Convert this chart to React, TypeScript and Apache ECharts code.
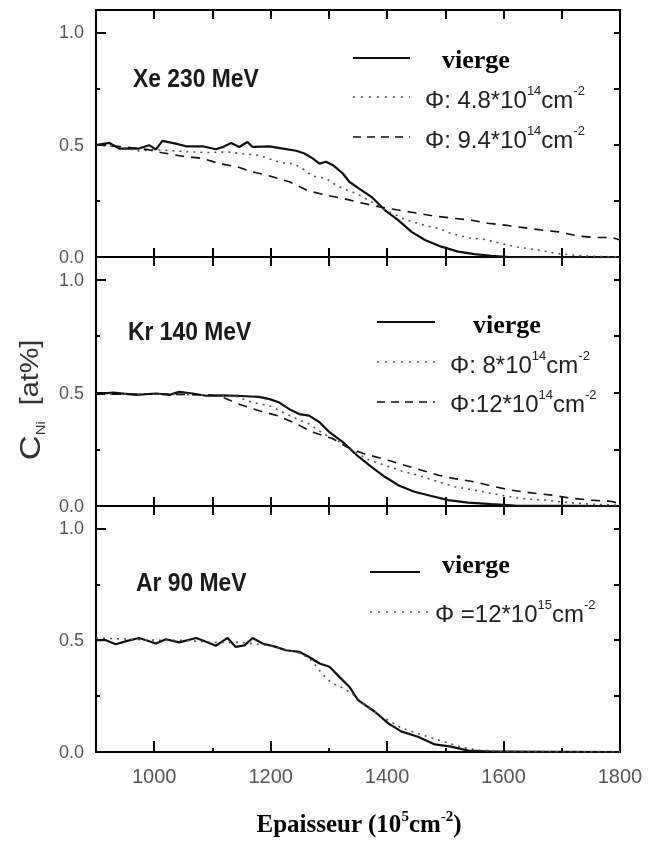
import React, { useEffect, useRef } from "react";
import * as echarts from "echarts";

// ---- Data (x: Epaisseur 10^5 cm^-2, y: C_Ni at%) ----
const xTickLabels = [1000, 1200, 1400, 1600, 1800];
const xMajorTicks = [1000, 1200, 1400, 1600];
const xMinorTicks = [1100, 1300, 1500, 1700];
const yTickLabels = [0, 0.5, 1.0];
const yMinorTicks = [0.25, 0.75];
const yRightTicks = [0, 0.25, 0.5, 0.75, 1.0];

const panelNames = ["Xe 230 MeV", "Kr 140 MeV", "Ar 90 MeV"];

// Xe 230 MeV
const xeVierge = [[900,0.498],[923,0.508],[940,0.483],[974,0.483],[991,0.498],[1003,0.479],[1014,0.517],[1037,0.505],[1055,0.493],[1083,0.493],[1106,0.48],[1118,0.49],[1132,0.508],[1146,0.49],[1160,0.512],[1169,0.49],[1198,0.493],[1221,0.483],[1244,0.473],[1258,0.461],[1272,0.439],[1284,0.416],[1295,0.424],[1307,0.409],[1324,0.372],[1335,0.335],[1350,0.308],[1373,0.268],[1396,0.209],[1419,0.164],[1442,0.112],[1465,0.076],[1493,0.046],[1522,0.024],[1550,0.013],[1579,0.005],[1610,0.0],[1800,0.0]];
const xeDose1 = [[900,0.5],[940,0.49],[975,0.472],[1000,0.478],[1050,0.47],[1089,0.465],[1126,0.468],[1150,0.46],[1180,0.453],[1200,0.435],[1218,0.419],[1238,0.416],[1255,0.394],[1272,0.36],[1295,0.35],[1312,0.32],[1329,0.3],[1347,0.283],[1370,0.25],[1400,0.205],[1430,0.168],[1453,0.15],[1470,0.137],[1488,0.128],[1510,0.105],[1539,0.085],[1568,0.078],[1600,0.058],[1619,0.046],[1659,0.031],[1694,0.015],[1730,0.006],[1770,0.002],[1800,0.0]];
const xeDose2 = [[900,0.5],[950,0.49],[990,0.478],[1014,0.464],[1049,0.449],[1083,0.439],[1112,0.416],[1143,0.401],[1169,0.379],[1200,0.36],[1232,0.335],[1264,0.295],[1295,0.276],[1324,0.261],[1347,0.246],[1385,0.224],[1419,0.209],[1447,0.197],[1482,0.182],[1516,0.172],[1545,0.164],[1573,0.15],[1602,0.142],[1631,0.132],[1665,0.12],[1694,0.112],[1729,0.093],[1757,0.087],[1786,0.087],[1800,0.076]];

// Kr 140 MeV
const krVierge = [[900,0.494],[929,0.501],[969,0.491],[1003,0.497],[1026,0.491],[1043,0.504],[1066,0.497],[1089,0.487],[1118,0.489],[1140,0.487],[1180,0.482],[1198,0.472],[1215,0.457],[1232,0.428],[1249,0.406],[1266,0.399],[1284,0.37],[1301,0.326],[1324,0.282],[1350,0.22],[1373,0.173],[1396,0.129],[1419,0.092],[1447,0.063],[1476,0.044],[1505,0.026],[1539,0.015],[1579,0.008],[1620,0.002],[1800,0.0]];
const krDose1 = [[900,0.494],[1000,0.495],[1100,0.49],[1140,0.485],[1169,0.457],[1198,0.443],[1221,0.414],[1244,0.385],[1266,0.363],[1290,0.32],[1320,0.28],[1345,0.24],[1367,0.205],[1396,0.18],[1425,0.155],[1453,0.136],[1488,0.107],[1516,0.085],[1550,0.07],[1596,0.048],[1625,0.034],[1671,0.026],[1710,0.015],[1750,0.008],[1800,0.003]];
const krDose2 = [[900,0.494],[1000,0.495],[1100,0.49],[1118,0.48],[1146,0.45],[1180,0.421],[1212,0.399],[1244,0.363],[1272,0.326],[1307,0.297],[1330,0.262],[1359,0.232],[1402,0.202],[1430,0.18],[1459,0.158],[1488,0.136],[1516,0.121],[1550,0.107],[1579,0.088],[1613,0.07],[1648,0.058],[1683,0.048],[1717,0.034],[1751,0.026],[1786,0.02],[1800,0.01]];

// Ar 90 MeV
const arVierge = [[900,0.5],[917,0.5],[934,0.482],[952,0.496],[974,0.51],[1003,0.485],[1020,0.504],[1043,0.49],[1072,0.51],[1089,0.493],[1106,0.475],[1126,0.51],[1140,0.47],[1155,0.477],[1169,0.51],[1186,0.485],[1209,0.47],[1226,0.455],[1249,0.448],[1266,0.425],[1284,0.396],[1301,0.381],[1318,0.336],[1335,0.292],[1350,0.232],[1379,0.18],[1402,0.128],[1425,0.091],[1453,0.068],[1482,0.034],[1510,0.024],[1539,0.006],[1580,0.002],[1800,0.0]];
const arDose1 = [[900,0.51],[950,0.505],[1000,0.5],[1050,0.5],[1100,0.49],[1150,0.49],[1200,0.475],[1230,0.455],[1252,0.44],[1270,0.41],[1290,0.345],[1304,0.31],[1321,0.29],[1340,0.26],[1360,0.215],[1390,0.16],[1425,0.107],[1459,0.077],[1499,0.045],[1530,0.02],[1560,0.008],[1600,0.002],[1800,0.0]];

const panelCurves = [
  [{ data: xeVierge, kind: "solid" }, { data: xeDose1, kind: "dotted" }, { data: xeDose2, kind: "dashed" }],
  [{ data: krVierge, kind: "solid" }, { data: krDose1, kind: "dotted" }, { data: krDose2, kind: "dashed" }],
  [{ data: arVierge, kind: "solid" }, { data: arDose1, kind: "dotted" }],
];

const SANS = "'Liberation Sans', Arial, sans-serif";
const SERIF = "'Liberation Serif', 'Times New Roman', serif";

const gridBoxes = [
  { top: 10, height: 247 },
  { top: 257, height: 249 },
  { top: 506, height: 246 },
];

function curveStyle(kind: string): any {
  if (kind === "solid") return { color: "#111", width: 2.2 };
  if (kind === "dotted") return { color: "#555", width: 1.6, type: [2, 5] };
  return { color: "#111", width: 1.6, type: [9, 7] };
}

function buildChartOption() {
  const grids = gridBoxes.map((g) => ({ left: 96, right: 38, top: g.top, height: g.height }));
  const xAxis: any[] = [];
  const yAxis: any[] = [];
  const c = "#000";
  const w = 2;
  gridBoxes.forEach((_, i) => {
    const last = i === 2;
    xAxis.push({
      type: "value", gridIndex: i, position: "bottom", min: 900, max: 1800, interval: 100, splitLine: { show: false },
      axisLine: { show: true, onZero: false, lineStyle: { color: c, width: w } },
      axisTick: last
        ? { show: true, inside: true, length: 11, customValues: xMajorTicks, lineStyle: { color: c, width: w } }
        : { show: true, inside: true, length: 9, lineStyle: { color: c, width: w } },
      axisLabel: last
        ? { show: true, customValues: xTickLabels, formatter: (v: number) => String(v), color: "#555", fontSize: 20, fontFamily: SANS, margin: 14 }
        : { show: false },
    });
    xAxis.push({
      type: "value", gridIndex: i, position: "top", min: 900, max: 1800, interval: 100, splitLine: { show: false },
      axisLine: { show: true, onZero: false, lineStyle: { color: c, width: w } },
      axisTick: { show: true, inside: true, length: 9, lineStyle: { color: c, width: w } },
      axisLabel: { show: false },
    });
    yAxis.push({
      type: "value", gridIndex: i, position: "left", min: 0, max: 1.1, splitLine: { show: false },
      axisLine: { show: true, onZero: false, lineStyle: { color: c, width: w } },
      axisTick: { show: true, inside: true, length: 10, customValues: yTickLabels, lineStyle: { color: c, width: w } },
      axisLabel: { show: true, customValues: yTickLabels, color: "#555", fontSize: 18, fontFamily: SANS, margin: 12, formatter: (v: number) => v.toFixed(1) },
    });
    yAxis.push({
      type: "value", gridIndex: i, position: "left", min: 0, max: 1.1, splitLine: { show: false },
      axisLine: { show: false, onZero: false },
      axisTick: { show: true, inside: true, length: 4, customValues: yMinorTicks, lineStyle: { color: c, width: w } },
      axisLabel: { show: false },
    });
    yAxis.push({
      type: "value", gridIndex: i, position: "right", min: 0, max: 1.1, splitLine: { show: false },
      axisLine: { show: true, onZero: false, lineStyle: { color: c, width: w } },
      axisTick: { show: true, inside: true, length: 6, customValues: yRightTicks, lineStyle: { color: c, width: w } },
      axisLabel: { show: false },
    });
  });
  xAxis.push({
    type: "value", gridIndex: 2, position: "bottom", min: 900, max: 1800, splitLine: { show: false },
    axisLine: { show: false, onZero: false },
    axisTick: { show: true, inside: true, length: 4, customValues: xMinorTicks, lineStyle: { color: c, width: w } },
    axisLabel: { show: false },
  });

  const series: any[] = [];
  panelCurves.forEach((list, i) => {
    list.forEach((s) => {
      series.push({
        type: "line", xAxisIndex: 2 * i, yAxisIndex: 3 * i, data: s.data, showSymbol: false,
        lineStyle: curveStyle(s.kind),
      });
    });
  });
  return { animation: false, grid: grids, xAxis, yAxis, series };
}

function buildOverlayOption() {
  const labelPos = [{ x: 133, y: 78 }, { x: 128, y: 331 }, { x: 136, y: 582 }];
  const graphic: any[] = panelNames.map((n, i) => ({
    type: "text", x: labelPos[i].x, y: labelPos[i].y, scaleX: 0.88,
    style: { text: n, fill: "#1a1a1a", fontSize: 26, fontWeight: "bold", fontFamily: SANS, align: "left", verticalAlign: "middle" },
  }));
  const legRich = {
    a: { fontSize: 24, fontFamily: SANS, fill: "#222", lineHeight: 30, verticalAlign: "middle" },
    s: { fontSize: 13, fontFamily: SANS, fill: "#222", verticalAlign: "top" },
  };
  const sample = (x1: number, x2: number, y: number, kind: string) => {
    const st: any = { stroke: kind === "dotted" ? "#555" : "#111", lineWidth: kind === "solid" ? 2.2 : 1.6 };
    if (kind === "dashed") st.lineDash = [8, 6];
    if (kind === "dotted") st.lineDash = [2, 6];
    return { type: "line", shape: { x1, y1: y, x2, y2: y }, style: st };
  };
  const vierge = (x: number, y: number) => ({
    type: "text", x, y,
    style: { text: "vierge", fill: "#000", fontSize: 26, fontWeight: "bold", fontFamily: SERIF, align: "left", verticalAlign: "middle" },
  });
  const legText = (x: number, y: number, lead: string, exp: string) => ({
    type: "text", x, y,
    style: { text: `{a|${lead}}{s|${exp}}{a|cm}{s|-2}`, rich: legRich, align: "left", verticalAlign: "middle" },
  });

  graphic.push(sample(353, 410, 58, "solid"), vierge(442, 59));
  graphic.push(sample(353, 410, 97, "dotted"), legText(425, 99, "Φ: 4.8*10", "14"));
  graphic.push(sample(353, 410, 137, "dashed"), legText(425, 139, "Φ: 9.4*10", "14"));
  graphic.push(sample(377, 435, 322, "solid"), vierge(473, 324));
  graphic.push(sample(377, 435, 362, "dotted"), legText(450, 364, "Φ: 8*10", "14"));
  graphic.push(sample(377, 435, 402, "dashed"), legText(450, 403, "Φ:12*10", "14"));
  graphic.push(sample(370, 420, 572, "solid"), vierge(442, 564));
  graphic.push(sample(370, 430, 612, "dotted"), legText(435, 613, "Φ =12*10", "15"));

  graphic.push({
    type: "text", x: 359, y: 823,
    style: {
      text: "{b|Epaisseur (10}{p|5}{b|cm}{p|-2}{b|)}",
      align: "center", verticalAlign: "middle",
      rich: {
        b: { fontSize: 25, fontWeight: "bold", fontFamily: SERIF, fill: "#000", lineHeight: 30, verticalAlign: "middle" },
        p: { fontSize: 15, fontWeight: "bold", fontFamily: SERIF, fill: "#000", verticalAlign: "top" },
      },
    },
  });
  graphic.push({
    type: "text", x: 30, y: 400, rotation: Math.PI / 2, scaleX: 1.15,
    style: {
      text: "{c|C}{n|Ni}{t|  [at%]}",
      align: "center", verticalAlign: "middle",
      rich: {
        c: { fontSize: 30, fontFamily: SANS, fill: "#333", lineHeight: 34, verticalAlign: "middle" },
        n: { fontSize: 13, fontFamily: SANS, fill: "#333", verticalAlign: "bottom" },
        t: { fontSize: 25, fontFamily: SANS, fill: "#333", verticalAlign: "middle" },
      },
    },
  });
  return { animation: false, graphic };
}

export default function App() {
  const ref = useRef<HTMLDivElement>(null);
  const overlayRef = useRef<HTMLDivElement>(null);
  useEffect(() => {
    if (!ref.current || !overlayRef.current) return;
    const chart = echarts.init(ref.current, null, { renderer: "svg" });
    chart.setOption(buildChartOption());
    const overlay = echarts.init(overlayRef.current, null, { renderer: "svg" });
    overlay.setOption(buildOverlayOption());
    return () => {
      overlay.dispose();
      chart.dispose();
    };
  }, []);
  return (
    <>
      <div ref={ref} style={{ position: "fixed", left: 0, top: 0, width: 658, height: 841 }} />
      <div ref={overlayRef} style={{ position: "fixed", left: 0, top: 0, width: 658, height: 841, pointerEvents: "none" }} />
    </>
  );
}
